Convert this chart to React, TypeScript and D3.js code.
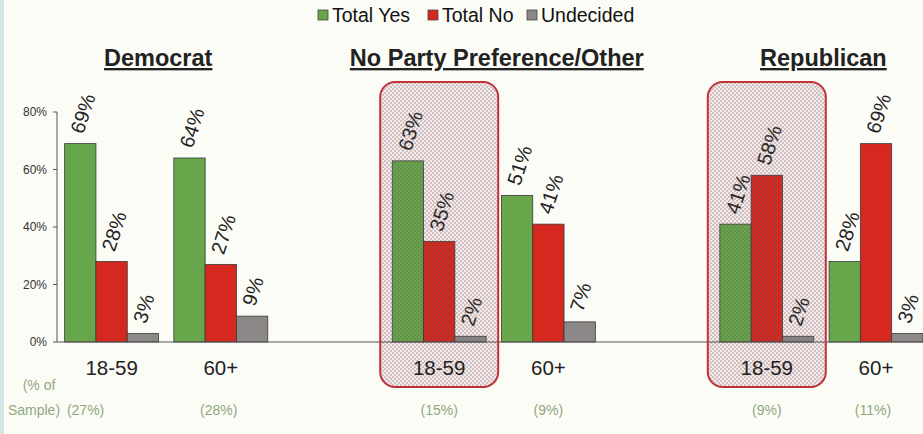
import React from "react";
import * as d3 from "d3";

const W = 923;
const H = 434;

const parties = ["Democrat", "No Party Preference/Other", "Republican"];
const slots = ["D1", "D2", "gap1", "N1", "N2", "gap2", "R1", "R2"];
const groupSlots = ["D1", "D2", "N1", "N2", "R1", "R2"];
const groupLabels = ["18-59", "60+", "18-59", "60+", "18-59", "60+"];
const sampleShares = ["(27%)", "(28%)", "(15%)", "(9%)", "(9%)", "(11%)"];
const highlighted = ["N1", "R1"];
const series = ["Total Yes", "Total No", "Undecided"];
const totalYes = [69, 64, 63, 51, 41, 28];
const totalNo = [28, 27, 35, 41, 58, 69];
const undecided = [3, 9, 2, 7, 2, 3];
const yTicks = [0, 20, 40, 60, 80];

const colors = ["#67a64b", "#d5291f", "#8d8888"];
const seriesValues = [totalYes, totalNo, undecided];

export default function App() {
  const x0 = d3.scaleBand<string>().domain(slots).range([57, 930.6]).paddingInner(0.14).paddingOuter(0.07);
  const x1 = d3.scaleBand<string>().domain(series).range([0, x0.bandwidth()]);
  const y = d3.scaleLinear().domain([0, 80]).range([342, 112]);
  const font = "'Liberation Sans', Arial, sans-serif";

  const center = (s: string) => (x0(s) as number) + x0.bandwidth() / 2;
  const titleOffsets = [-8, 3, 2];
  const sampleOffsets = [-26, -2, 0, 0, 0, -3];

  const boxes = highlighted.map((s) => {
    const c = center(s);
    return { x: c - 59, y: 82, w: 118, h: 305 };
  });

  return (
    <svg width={W} height={H} style={{ position: "absolute", left: 0, top: 0, background: "#fcfcf7" }} fontFamily={font}>
      <defs>
        <pattern id="dots" width="4" height="4" patternUnits="userSpaceOnUse">
          <circle cx="1" cy="1" r="0.75" fill="#5a5050" opacity="0.65" />
          <circle cx="3" cy="3" r="0.75" fill="#5a5050" opacity="0.65" />
        </pattern>
      </defs>
      <rect x={0} y={0} width={W} height={H} fill="#fcfcf7" />
      <rect x={0} y={0} width={4} height={H} fill="#cfe6e4" />

      {/* highlight box backgrounds */}
      {boxes.map((b, i) => (
        <rect key={"bb" + i} x={b.x} y={b.y} width={b.w} height={b.h} rx={15} fill="#f7e9e9" />
      ))}

      {/* legend */}
      {series.map((s, i) => {
        const lx = [318, 428, 527][i];
        return (
          <g key={s}>
            <rect x={lx} y={10} width={10} height={10} fill={colors[i]} stroke="#444" strokeWidth={0.8} />
            <text x={lx + 14} y={21.5} fontSize={19.5} fill="#111">{s}</text>
          </g>
        );
      })}

      {/* titles */}
      {parties.map((p, i) => {
        const cx = (center(groupSlots[i * 2]) + center(groupSlots[i * 2 + 1])) / 2 + titleOffsets[i];
        return (
          <text key={p} x={cx} y={66} textAnchor="middle" fontSize={23.5} fontWeight="bold" fill="#222" textDecoration="underline">
            {p}
          </text>
        );
      })}

      {/* y axis */}
      <line x1={57} x2={57} y1={y(80)} y2={y(0)} stroke="#555" strokeWidth={1} />
      {yTicks.map((t) => (
        <g key={t}>
          <line x1={53} x2={57} y1={y(t)} y2={y(t)} stroke="#555" strokeWidth={1} />
          <text x={47} y={y(t) + 4} textAnchor="end" fontSize={12} fill="#333">{t}%</text>
        </g>
      ))}

      {/* bars */}
      {groupSlots.map((g, gi) =>
        series.map((s, si) => {
          const v = seriesValues[si][gi];
          const bx = (x0(g) as number) + (x1(s) as number);
          const bw = x1.bandwidth();
          return (
            <g key={g + s}>
              <rect x={bx} y={y(v)} width={bw} height={y(0) - y(v)} fill={colors[si]} stroke="#3a3a3a" strokeWidth={0.8} />
              <text
                transform={`translate(${bx + bw / 2 + 3},${y(v) - 9}) rotate(-72)`}
                fontSize={20}
                fill="#222"
              >
                {v}%
              </text>
            </g>
          );
        })
      )}

      {/* baseline */}
      <line x1={57} x2={W} y1={y(0)} y2={y(0)} stroke="#555" strokeWidth={1.2} />

      {/* highlight overlays */}
      {boxes.map((b, i) => (
        <rect key={"bo" + i} x={b.x} y={b.y} width={b.w} height={b.h} rx={15} fill="url(#dots)" stroke="#c0303a" strokeWidth={2} />
      ))}

      {/* category labels */}
      {groupSlots.map((g, gi) => (
        <text key={"cl" + g} x={center(g)} y={375} textAnchor="middle" fontSize={20.5} fill="#222">
          {groupLabels[gi]}
        </text>
      ))}

      {/* sample shares */}
      <text x={39} y={390} textAnchor="middle" fontSize={14} fill="#8ea87e">(% of</text>
      <text x={34} y={415} textAnchor="middle" fontSize={14} fill="#8ea87e">Sample)</text>
      {groupSlots.map((g, gi) => (
        <text key={"ss" + g} x={center(g) + sampleOffsets[gi]} y={415} textAnchor="middle" fontSize={14} fill="#8ea87e">
          {sampleShares[gi]}
        </text>
      ))}
    </svg>
  );
}
